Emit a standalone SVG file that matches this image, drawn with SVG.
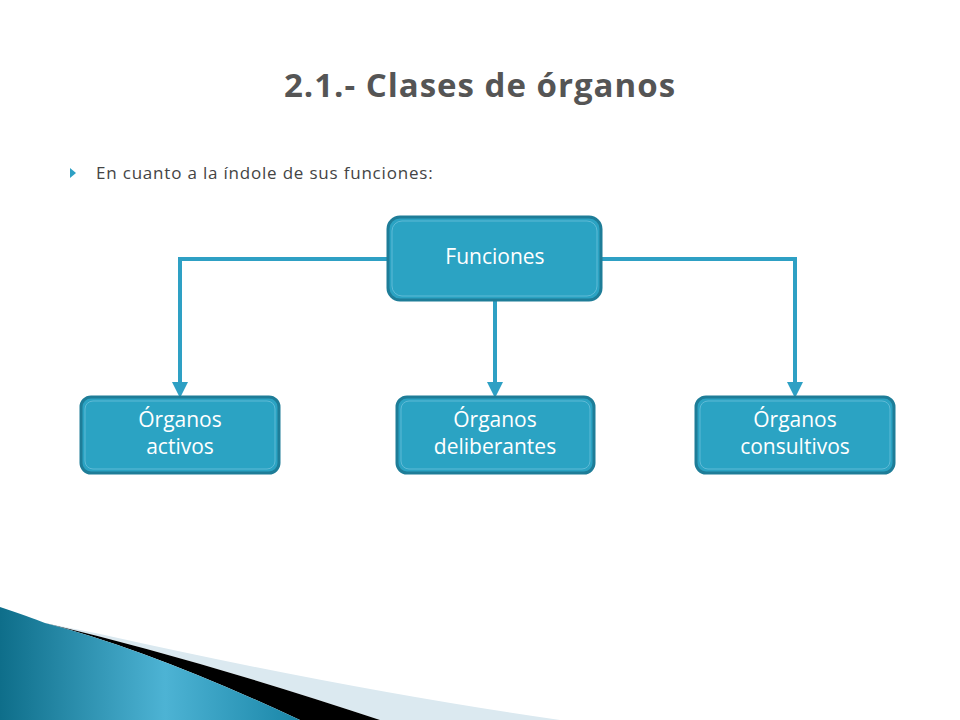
<svg xmlns="http://www.w3.org/2000/svg" width="960" height="720" viewBox="0 0 960 720">
<defs>
<linearGradient id="bg" x1="0" y1="0" x2="1" y2="0"><stop offset="0" stop-color="#0e6e8a"/><stop offset="0.55" stop-color="#4db3d4"/><stop offset="1" stop-color="#1a86a8"/></linearGradient>
<marker id="ah" viewBox="0 0 10 10" refX="5" refY="5" markerWidth="4" markerHeight="4" orient="auto"><path d="M0,0 L10,5 L0,10 z" fill="#2ea0c4"/></marker>
</defs>
<style>
.box{fill:#2ba3c3;stroke:#1e7d98;stroke-width:3}
.inner{fill:none;stroke:#5fbad6;stroke-width:1}
.lbl{font-family:"Open Sans","DejaVu Sans",sans-serif;font-size:21px;fill:#fff;text-anchor:middle}
.con{fill:none;stroke:#2ea0c4;stroke-width:4}
</style>
<rect width="960" height="720" fill="#fff"/>
<path d="M100,634 Q350,690 560,720 L380,720 Q200,660 45,623 Z" fill="#dbe9f0"/>
<path d="M45,623 Q200,660 380,720 L300,720 Q150,650 45,623 Z" fill="#000"/>
<path d="M0,607 Q30,617 45,623 Q150,650 300,720 L0,720 Z" fill="url(#bg)"/>
<text x="480" y="97" font-family="Open Sans,DejaVu Sans,sans-serif" font-size="33" font-weight="bold" fill="#555" text-anchor="middle" letter-spacing="1">2.1.- Clases de órganos</text>
<path d="M70,168 L76,173 L70,178 Z" fill="#2ea0c4"/>
<text x="96" y="179" font-family="Open Sans,DejaVu Sans,sans-serif" font-size="17" fill="#444" letter-spacing="0.8">En cuanto a la índole de sus funciones:</text>
<g id="connectors">
<path class="con" d="M388,259 H180 V390" marker-end="url(#ah)"/>
<path class="con" d="M601,259 H795 V390" marker-end="url(#ah)"/>
<path class="con" d="M495,300 V390" marker-end="url(#ah)"/>
</g>
<g id="funciones"><rect class="box" x="388" y="217" width="213" height="83" rx="12"/><rect class="inner" x="392" y="221" width="205" height="75" rx="10"/><text class="lbl" x="495" y="264">Funciones</text></g>
<g id="activos"><rect class="box" x="81" y="397" width="198" height="76" rx="10"/><rect class="inner" x="85" y="401" width="190" height="68" rx="8"/><text class="lbl" x="180" y="427">Órganos</text><text class="lbl" x="180" y="454">activos</text></g>
<g id="deliberantes"><rect class="box" x="397" y="397" width="197" height="76" rx="10"/><rect class="inner" x="401" y="401" width="189" height="68" rx="8"/><text class="lbl" x="495" y="427">Órganos</text><text class="lbl" x="495" y="454">deliberantes</text></g>
<g id="consultivos"><rect class="box" x="696" y="397" width="198" height="76" rx="10"/><rect class="inner" x="700" y="401" width="190" height="68" rx="8"/><text class="lbl" x="795" y="427">Órganos</text><text class="lbl" x="795" y="454">consultivos</text></g>
</svg>
